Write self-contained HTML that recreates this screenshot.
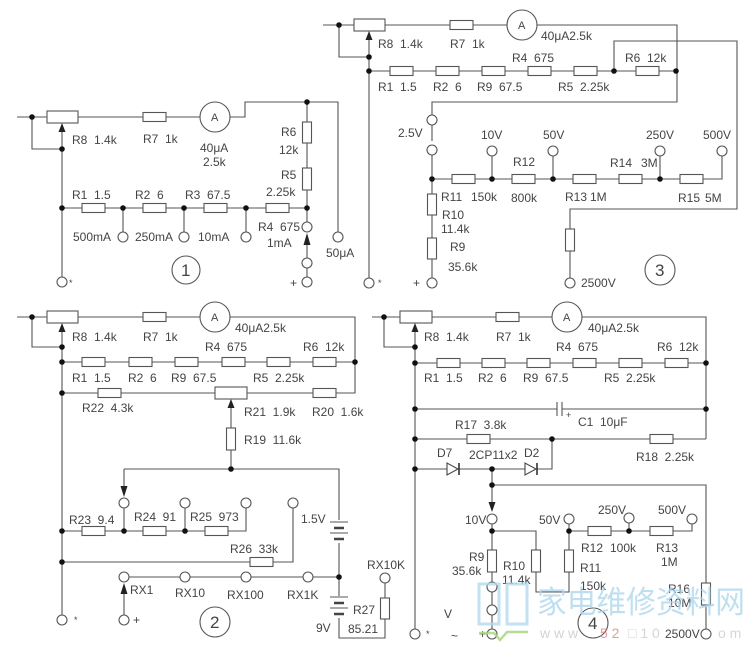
<!DOCTYPE html>
<html><head><meta charset="utf-8">
<style>
html,body{margin:0;padding:0;background:#fff;}
svg{display:block;}
.w{stroke:#555;stroke-width:1.1;fill:none;}
.r{fill:#fff;stroke:#555;stroke-width:1.1;}
.t{fill:#fff;stroke:#555;stroke-width:1.1;}
.d{fill:#111;}
.a{fill:#222;}
text{font-family:"Liberation Sans",sans-serif;font-size:12px;fill:#444;white-space:pre;}
.big{font-size:17px;}
.cn{font-family:"Liberation Sans","Noto Sans CJK SC","WenQuanYi Zen Hei",sans-serif;font-size:31px;fill:#b0d8ee;}
</style></head>
<body>
<svg width="755" height="658" viewBox="0 0 755 658" xmlns="http://www.w3.org/2000/svg">
<rect width="755" height="658" fill="#fff"/>

<!-- ================= PANEL 1 ================= -->
<path class="w" d="M17,117H200M230,117H245V102H338V232"/>
<path class="w" d="M32,117V149H62"/>
<path class="w" d="M62,132V277"/>
<path class="w" d="M62,208H307"/>
<path class="w" d="M123,208V232M184,208V232M246,208V232"/>
<path class="w" d="M307,102V222M307,245V258M307,268V277"/>
<rect class="r" x="47" y="111" width="31" height="12"/>
<rect class="r" x="143" y="112.5" width="23" height="9"/>
<circle class="t" cx="215" cy="117" r="15"/>
<text x="211" y="121" style="font-size:11px">A</text>
<rect class="r" x="82" y="203.5" width="23" height="9"/>
<rect class="r" x="143" y="203.5" width="23" height="9"/>
<rect class="r" x="204" y="203.5" width="23" height="9"/>
<rect class="r" x="266" y="203.5" width="23" height="9"/>
<rect class="r" x="302.5" y="122" width="9" height="21"/>
<rect class="r" x="302.5" y="168" width="9" height="22"/>
<polygon class="a" points="62,123 58.5,132 65.5,132"/>
<polygon class="a" points="307,233 303.5,245 310.5,245"/>
<circle class="d" cx="32" cy="117" r="2.8"/>
<circle class="d" cx="62" cy="149" r="2.8"/>
<circle class="d" cx="62" cy="208" r="2.8"/>
<circle class="d" cx="123" cy="208" r="2.8"/>
<circle class="d" cx="184" cy="208" r="2.8"/>
<circle class="d" cx="246" cy="208" r="2.8"/>
<circle class="d" cx="307" cy="208" r="2.8"/>
<circle class="d" cx="307" cy="102" r="2.8"/>
<circle class="t" cx="123" cy="237" r="5"/>
<circle class="t" cx="184" cy="237" r="5"/>
<circle class="t" cx="246" cy="237" r="5"/>
<circle class="t" cx="307" cy="227" r="5"/>
<circle class="t" cx="307" cy="263" r="5"/>
<circle class="t" cx="307" cy="282" r="5"/>
<circle class="t" cx="62" cy="282" r="5"/>
<circle class="t" cx="338" cy="237" r="5"/>
<text x="72" y="144">R8  1.4k</text>
<text x="143" y="143">R7  1k</text>
<text x="200" y="152">40μA</text>
<text x="203" y="166">2.5k</text>
<text x="281" y="136">R6</text>
<text x="279" y="154">12k</text>
<text x="281" y="179">R5</text>
<text x="266" y="196">2.25k</text>
<text x="72" y="199">R1  1.5</text>
<text x="135" y="199">R2  6</text>
<text x="185" y="199">R3  67.5</text>
<text x="258" y="231">R4  675</text>
<text x="267" y="247">1mA</text>
<text x="73" y="241">500mA</text>
<text x="135" y="241">250mA</text>
<text x="198" y="241">10mA</text>
<text x="326" y="257">50μA</text>
<text x="290" y="287">+</text>
<text x="69" y="286" style="font-size:9px">*</text>
<circle class="t" cx="186" cy="270" r="14"/>
<text class="big" x="181" y="276">1</text>

<!-- ================= PANEL 3 ================= -->
<path class="w" d="M323,25H507M537,25H677V102H432V116"/>
<path class="w" d="M339,25V57H369"/>
<path class="w" d="M369,40V278"/>
<path class="w" d="M369,71H676"/>
<path class="w" d="M614,71V41H737V209H570V278"/>
<path class="w" d="M432,125V141M432,155V278"/>
<path class="w" d="M432,179H722V156"/>
<path class="w" d="M492,156V179M553,156V179M660,156V179"/>
<rect class="r" x="354" y="19" width="31" height="12"/>
<rect class="r" x="450" y="20.5" width="23" height="9"/>
<circle class="t" cx="522" cy="25" r="15"/>
<text x="518" y="29" style="font-size:11px">A</text>
<rect class="r" x="390" y="66.5" width="23" height="9"/>
<rect class="r" x="436" y="66.5" width="23" height="9"/>
<rect class="r" x="482" y="66.5" width="23" height="9"/>
<rect class="r" x="528" y="66.5" width="23" height="9"/>
<rect class="r" x="574" y="66.5" width="23" height="9"/>
<rect class="r" x="636" y="66.5" width="23" height="9"/>
<rect class="r" x="565.5" y="229" width="9" height="22"/>
<rect class="r" x="452" y="174.5" width="23" height="9"/>
<rect class="r" x="512" y="174.5" width="23" height="9"/>
<rect class="r" x="573" y="174.5" width="23" height="9"/>
<rect class="r" x="619" y="174.5" width="23" height="9"/>
<rect class="r" x="680" y="174.5" width="23" height="9"/>
<rect class="r" x="427.5" y="194" width="9" height="21"/>
<rect class="r" x="427.5" y="238" width="9" height="21"/>
<polygon class="a" points="369,31 365.5,40 372.5,40"/>
<circle class="d" cx="339" cy="25" r="2.8"/>
<circle class="d" cx="369" cy="57" r="2.8"/>
<circle class="d" cx="369" cy="71" r="2.8"/>
<circle class="d" cx="614" cy="71" r="2.8"/>
<circle class="d" cx="676" cy="71" r="2.8"/>
<circle class="d" cx="432" cy="179" r="2.8"/>
<circle class="d" cx="492" cy="179" r="2.8"/>
<circle class="d" cx="553" cy="179" r="2.8"/>
<circle class="d" cx="660" cy="179" r="2.8"/>
<circle class="t" cx="432" cy="120" r="5"/>
<circle class="t" cx="432" cy="150" r="5"/>
<circle class="t" cx="492" cy="151" r="5"/>
<circle class="t" cx="553" cy="151" r="5"/>
<circle class="t" cx="660" cy="151" r="5"/>
<circle class="t" cx="722" cy="151" r="5"/>
<circle class="t" cx="432" cy="283" r="5"/>
<circle class="t" cx="369" cy="283" r="5"/>
<circle class="t" cx="570" cy="283" r="5"/>
<text x="378" y="48">R8  1.4k</text>
<text x="450" y="48">R7  1k</text>
<text x="541" y="40">40μA2.5k</text>
<text x="512" y="62">R4  675</text>
<text x="625" y="62">R6  12k</text>
<text x="378" y="91">R1  1.5</text>
<text x="433" y="91">R2  6</text>
<text x="477" y="91">R9  67.5</text>
<text x="558" y="91">R5  2.25k</text>
<text x="398" y="137">2.5V</text>
<text x="481" y="139">10V</text>
<text x="543" y="139">50V</text>
<text x="646" y="139">250V</text>
<text x="703" y="139">500V</text>
<text x="441" y="201">R11</text>
<text x="471" y="201">150k</text>
<text x="513" y="166">R12</text>
<text x="511" y="202">800k</text>
<text x="565" y="201">R13</text>
<text x="590" y="201">1M</text>
<text x="610" y="167">R14</text>
<text x="641" y="167">3M</text>
<text x="678" y="202">R15</text>
<text x="705" y="202">5M</text>
<text x="442" y="219">R10</text>
<text x="441" y="233">11.4k</text>
<text x="450" y="251">R9</text>
<text x="448" y="271">35.6k</text>
<text x="413" y="287">+</text>
<text x="378" y="286" style="font-size:9px">*</text>
<text x="581" y="287">2500V</text>
<circle class="t" cx="660" cy="270" r="15"/>
<text class="big" x="655" y="276">3</text>

<!-- ================= PANEL 2 ================= -->
<path class="w" d="M17,317H200M230,317H355V393H62"/>
<path class="w" d="M32,317V347H62"/>
<path class="w" d="M62,332V615"/>
<path class="w" d="M62,362H355"/>
<path class="w" d="M231,408V469"/>
<path class="w" d="M124,469H339V520M339,543V577"/>
<path class="w" d="M124,469V486"/>
<path class="w" d="M62,531H246V508M124,508V531M185,508V531"/>
<path class="w" d="M293,508V562H62"/>
<path class="w" d="M124,577H339"/>
<path class="w" d="M124,594V615"/>
<path class="w" d="M339,577V596M339,618V638H385V619M385,598V583"/>
<rect class="r" x="47" y="311" width="31" height="12"/>
<rect class="r" x="143" y="312.5" width="23" height="9"/>
<circle class="t" cx="215" cy="317" r="15"/>
<text x="211" y="321" style="font-size:11px">A</text>
<rect class="r" x="82" y="357.5" width="23" height="9"/>
<rect class="r" x="129" y="357.5" width="23" height="9"/>
<rect class="r" x="175" y="357.5" width="23" height="9"/>
<rect class="r" x="222" y="357.5" width="23" height="9"/>
<rect class="r" x="267" y="357.5" width="23" height="9"/>
<rect class="r" x="313" y="357.5" width="23" height="9"/>
<rect class="r" x="98" y="388.5" width="23" height="9"/>
<rect class="r" x="215" y="387" width="32" height="12"/>
<rect class="r" x="313" y="388.5" width="23" height="9"/>
<rect class="r" x="226.5" y="428" width="9" height="22"/>
<rect class="r" x="82" y="526.5" width="23" height="9"/>
<rect class="r" x="143" y="526.5" width="23" height="9"/>
<rect class="r" x="205" y="526.5" width="23" height="9"/>
<rect class="r" x="250" y="557.5" width="23" height="9"/>
<rect class="r" x="380.5" y="598" width="9" height="21"/>
<path class="w" d="M330,522H348M330,533H348M330,597H348M330,608H348"/>
<path d="M334,528H344M334,539H344M334,603H344M334,614H344" stroke="#444" stroke-width="2.4" fill="none"/>
<polygon class="a" points="62,323 58.5,332 65.5,332"/>
<polygon class="a" points="231,399 227.5,408 234.5,408"/>
<polygon class="a" points="120.5,486 127.5,486 124,497"/>
<polygon class="a" points="124,583 120.5,594 127.5,594"/>
<circle class="d" cx="32" cy="317" r="2.8"/>
<circle class="d" cx="62" cy="347" r="2.8"/>
<circle class="d" cx="62" cy="362" r="2.8"/>
<circle class="d" cx="62" cy="393" r="2.8"/>
<circle class="d" cx="355" cy="362" r="2.8"/>
<circle class="d" cx="231" cy="469" r="2.8"/>
<circle class="d" cx="62" cy="531" r="2.8"/>
<circle class="d" cx="124" cy="531" r="2.8"/>
<circle class="d" cx="185" cy="531" r="2.8"/>
<circle class="d" cx="62" cy="562" r="2.8"/>
<circle class="d" cx="339" cy="577" r="2.8"/>
<circle class="t" cx="124" cy="503" r="5"/>
<circle class="t" cx="185" cy="503" r="5"/>
<circle class="t" cx="246" cy="503" r="5"/>
<circle class="t" cx="293" cy="503" r="5"/>
<circle class="t" cx="124" cy="577" r="5"/>
<circle class="t" cx="185" cy="577" r="5"/>
<circle class="t" cx="246" cy="577" r="5"/>
<circle class="t" cx="308" cy="577" r="5"/>
<circle class="t" cx="385" cy="578" r="5"/>
<circle class="t" cx="62" cy="620" r="5"/>
<circle class="t" cx="124" cy="620" r="5"/>
<text x="72" y="341">R8  1.4k</text>
<text x="143" y="341">R7  1k</text>
<text x="235" y="332">40μA2.5k</text>
<text x="205" y="351">R4  675</text>
<text x="303" y="351">R6  12k</text>
<text x="72" y="382">R1  1.5</text>
<text x="128" y="382">R2  6</text>
<text x="171" y="382">R9  67.5</text>
<text x="253" y="382">R5  2.25k</text>
<text x="82" y="412">R22  4.3k</text>
<text x="244" y="416">R21  1.9k</text>
<text x="312" y="416">R20  1.6k</text>
<text x="244" y="444">R19  11.6k</text>
<text x="69" y="524">R23  9.4</text>
<text x="134" y="521">R24  91</text>
<text x="190" y="521">R25  973</text>
<text x="230" y="553">R26  33k</text>
<text x="301" y="523">1.5V</text>
<text x="130" y="594">RX1</text>
<text x="175" y="597">RX10</text>
<text x="227" y="599">RX100</text>
<text x="287" y="599">RX1K</text>
<text x="367" y="569">RX10K</text>
<text x="353" y="614">R27</text>
<text x="316" y="632">9V</text>
<text x="348" y="633">85.21</text>
<text x="74" y="623" style="font-size:9px">*</text>
<text x="133" y="624">+</text>
<circle class="t" cx="215" cy="622" r="15"/>
<text class="big" x="210" y="628">2</text>

<!-- ================= PANEL 4 ================= -->
<path class="w" d="M372,317H552M582,317H706V439"/>
<path class="w" d="M384,317V347H415"/>
<path class="w" d="M415,332V629"/>
<path class="w" d="M415,363H706"/>
<path class="w" d="M415,409H557M562,409H706"/>
<path class="w" d="M557,402V416M562,402V416"/>
<path class="w" d="M415,439H706"/>
<path class="w" d="M415,469H552V439"/>
<path class="w" d="M492,469V502"/>
<path class="w" d="M492,485H706V629"/>
<path class="w" d="M492,524V582M492,592V605M492,615V629"/>
<path class="w" d="M492,531H536V550M536,572V592H569V572M569,550V524"/>
<path class="w" d="M569,531H692V524M629,531V523"/>
<rect class="r" x="400" y="311" width="32" height="12"/>
<rect class="r" x="496" y="312.5" width="23" height="9"/>
<circle class="t" cx="567" cy="317" r="15"/>
<text x="563" y="321" style="font-size:11px">A</text>
<rect class="r" x="437" y="358.5" width="23" height="9"/>
<rect class="r" x="482" y="358.5" width="23" height="9"/>
<rect class="r" x="527" y="358.5" width="23" height="9"/>
<rect class="r" x="573" y="358.5" width="23" height="9"/>
<rect class="r" x="619" y="358.5" width="23" height="9"/>
<rect class="r" x="665" y="358.5" width="23" height="9"/>
<rect class="r" x="467" y="434.5" width="23" height="9"/>
<rect class="r" x="650" y="434.5" width="23" height="9"/>
<rect class="r" x="701.5" y="583" width="9" height="22"/>
<rect class="r" x="487.5" y="550" width="9" height="22"/>
<rect class="r" x="531.5" y="550" width="9" height="22"/>
<rect class="r" x="564.5" y="550" width="9" height="22"/>
<rect class="r" x="588" y="526.5" width="23" height="9"/>
<rect class="r" x="650" y="526.5" width="23" height="9"/>
<polygon points="447,463 447,475 458,469" fill="#fff" stroke="#444" stroke-width="1.1"/>
<path d="M459,463V475" stroke="#333" stroke-width="1.6"/>
<polygon points="525,463 525,475 536,469" fill="#fff" stroke="#444" stroke-width="1.1"/>
<path d="M537,463V475" stroke="#333" stroke-width="1.6"/>
<polygon class="a" points="415,323 411.5,332 418.5,332"/>
<polygon class="a" points="488.5,502 495.5,502 492,512"/>
<circle class="d" cx="384" cy="317" r="2.8"/>
<circle class="d" cx="415" cy="347" r="2.8"/>
<circle class="d" cx="415" cy="363" r="2.8"/>
<circle class="d" cx="415" cy="409" r="2.8"/>
<circle class="d" cx="415" cy="439" r="2.8"/>
<circle class="d" cx="415" cy="469" r="2.8"/>
<circle class="d" cx="706" cy="363" r="2.8"/>
<circle class="d" cx="706" cy="409" r="2.8"/>
<circle class="d" cx="552" cy="439" r="2.8"/>
<circle class="d" cx="492" cy="469" r="2.8"/>
<circle class="d" cx="492" cy="485" r="2.8"/>
<circle class="d" cx="492" cy="531" r="2.8"/>
<circle class="d" cx="569" cy="531" r="2.8"/>
<circle class="d" cx="629" cy="531" r="2.8"/>
<circle class="t" cx="492" cy="519" r="5"/>
<circle class="t" cx="569" cy="519" r="5"/>
<circle class="t" cx="629" cy="518" r="5"/>
<circle class="t" cx="692" cy="519" r="5"/>
<circle class="t" cx="492" cy="587" r="5"/>
<circle class="t" cx="492" cy="610" r="5"/>
<circle class="t" cx="492" cy="634" r="5"/>
<circle class="t" cx="415" cy="634" r="5"/>
<circle class="t" cx="706" cy="634" r="5"/>
<text x="424" y="341">R8  1.4k</text>
<text x="496" y="341">R7  1k</text>
<text x="588" y="332">40μA2.5k</text>
<text x="556" y="351">R4  675</text>
<text x="657" y="351">R6  12k</text>
<text x="424" y="382">R1  1.5</text>
<text x="478" y="382">R2  6</text>
<text x="523" y="382">R9  67.5</text>
<text x="604" y="382">R5  2.25k</text>
<text x="566" y="418" style="font-size:9px">+</text>
<text x="578" y="426">C1  10μF</text>
<text x="455" y="429">R17  3.8k</text>
<text x="636" y="461">R18  2.25k</text>
<text x="437" y="457">D7</text>
<text x="469" y="459">2CP11x2</text>
<text x="524" y="457">D2</text>
<text x="465" y="524">10V</text>
<text x="539" y="524">50V</text>
<text x="598" y="514">250V</text>
<text x="658" y="514">500V</text>
<text x="581" y="552">R12</text>
<text x="610" y="552">100k</text>
<text x="656" y="552">R13</text>
<text x="661" y="566">1M</text>
<text x="469" y="561">R9</text>
<text x="452" y="575">35.6k</text>
<text x="503" y="570">R10</text>
<text x="502" y="584">11.4k</text>
<text x="580" y="572">R11</text>
<text x="580" y="590">150k</text>
<text x="668" y="593">R16</text>
<text x="668" y="607">10M</text>
<text x="665" y="638">2500V</text>
<text x="444" y="618">V</text>
<text x="451" y="640">~</text>
<text x="426" y="637" style="font-size:9px">*</text>
<text x="479" y="638">+</text>
<circle class="t" cx="593" cy="623" r="15" fill="none"/>
<text class="big" x="588" y="629">4</text>

<!-- ================= WATERMARK ================= -->
<g opacity="0.8">
<rect x="479" y="584" width="20" height="40" fill="none" stroke="#b3dbef" stroke-width="3"/>
<rect x="507" y="584" width="20" height="40" fill="none" stroke="#b3dbef" stroke-width="3"/>
<path d="M479,633H494L500,640L507,632H528" fill="none" stroke="#a6d47a" stroke-width="2.5"/>
<text class="cn" x="537" y="613" textLength="208" lengthAdjust="spacingAndGlyphs">家电维修资料网</text>
<text x="540" y="638" style="font-size:14px;fill:#c8c8c8">w w w</text>
<text x="600" y="638" style="font-size:14px;fill:#e48080">5 2</text>
<text x="628" y="638" style="font-size:14px;fill:#cccccc">□ 1 0</text>
<text x="718" y="638" style="font-size:14px;fill:#cccccc">o m</text>
</g>
</svg>
</body></html>
